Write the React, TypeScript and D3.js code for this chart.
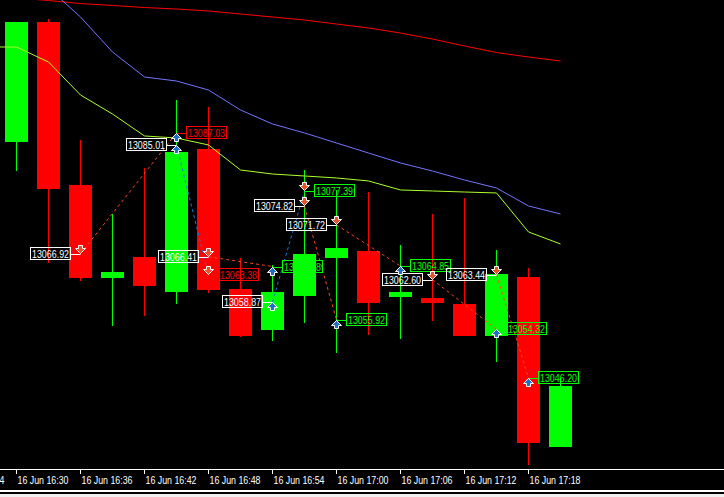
import React from "react";
import * as d3 from "d3";

// ---------- data ----------
const barTimes = [
  "16:30", "16:33", "16:36", "16:39", "16:42", "16:45", "16:48", "16:51", "16:54",
  "16:57", "17:00", "17:03", "17:06", "17:09", "17:12", "17:15", "17:18", "17:21",
];
const opens = [
  13085.54, 13105.54, 13078.37, 13062.87, 13066.37, 13060.54, 13084.37, 13061.04, 13054.2,
  13059.87, 13066.2, 13067.37, 13059.7, 13059.54, 13058.54, 13053.2, 13063.04, 13034.7,
];
const highs = [
  13105.54, 13106.04, 13085.87, 13073.54, 13081.2, 13092.54, 13091.37, 13066.2, 13065.04,
  13080.87, 13077.54, 13077.2, 13068.37, 13073.54, 13076.2, 13067.54, 13064.54, 13046.2,
];
const lows = [
  13080.7, 13065.37, 13062.37, 13054.87, 13056.54, 13058.54, 13060.37, 13053.04, 13052.37,
  13055.37, 13050.37, 13053.37, 13052.7, 13055.7, 13053.2, 13048.87, 13031.7, 13034.7,
];
const closes = [
  13105.54, 13077.7, 13062.87, 13063.87, 13061.54, 13083.87, 13060.87, 13053.2, 13060.54,
  13066.87, 13067.87, 13058.7, 13060.54, 13058.7, 13053.2, 13063.54, 13035.37, 13044.87,
];

// moving averages (first value belongs to the bar before 16:30)
const maTimes = ["16:27", ...barTimes];
const maSlow = [
  13110.04, 13109.54, 13109.12, 13108.62, 13108.29, 13107.95, 13107.7, 13107.37, 13106.87, 13106.37,
  13105.87, 13105.2, 13104.54, 13103.7, 13102.7, 13101.54, 13100.45, 13099.7, 13099.04,
];
const maMid: (number | null)[] = [
  null, null, 13111.2, 13106.37, 13100.54, 13096.37, 13095.7, 13094.2, 13090.87, 13088.54,
  13087.04, 13085.37, 13083.7, 13082.04, 13080.7, 13079.2, 13077.87, 13074.87, 13073.54,
];
const maFast = [
  13101.37, 13101.37, 13098.87, 13093.37, 13090.2, 13086.54, 13086.2, 13085.04, 13080.87, 13080.2,
  13079.87, 13079.54, 13079.04, 13077.54, 13077.37, 13077.2, 13077.04, 13070.54, 13068.54,
];

// trade history
const tradeTypes = ["sell", "buy", "sell", "buy", "sell", "sell", "sell", "sell"];
const tradeOpenTimes = ["16:36", "16:45", "16:48", "16:54", "16:57", "17:00", "17:09", "17:15"];
const tradeOpenPrices = [13066.92, 13085.01, 13066.41, 13058.87, 13074.82, 13071.72, 13062.6, 13063.44];
const tradeCloseTimes = ["16:45", "16:48", "16:54", "16:57", "17:00", "17:06", "17:15", "17:18"];
const tradeClosePrices = [13087.03, 13063.38, 13064.78, 13077.39, 13055.92, 13064.85, 13054.32, 13046.2];

// ---------- view ----------
const W = 724;
const H = 497;
const AXIS_Y = 470;
const PRICE_TOP = 13109.2033;
const PRICE_BOTTOM = 13030.8633;

const BULL = "#00ff00";
const BEAR = "#ff0000";
const BUY_BLUE = "#1f6fc4";
const SELL_RED = "#e8512c";
const DASH_BLUE = "#1f78d8";
const DASH_RED = "#f24a22";

const toDate = (t: string) => {
  const [h, m] = t.split(":").map(Number);
  return new Date(2020, 5, 16, h, m);
};

const x = d3.scaleTime().domain([toDate("16:30"), toDate("17:21")]).range([16.5, 560.5]);
const y = d3.scaleLinear().domain([PRICE_BOTTOM, PRICE_TOP]).range([AXIS_Y, 0]);
const fmt = d3.timeFormat("%d %b %H:%M");

function upArrow(cx: number, py: number) {
  const t = Math.round(py) + 0.5;
  return `M${cx},${t} L${cx + 5},${t + 5} L${cx + 2},${t + 5} L${cx + 2},${t + 8} L${cx - 2},${t + 8} L${cx - 2},${t + 5} L${cx - 5},${t + 5} Z`;
}
function downArrow(cx: number, py: number) {
  const t = Math.round(py) - 0.5;
  return `M${cx},${t} L${cx + 5},${t - 5} L${cx + 2},${t - 5} L${cx + 2},${t - 8} L${cx - 2},${t - 8} L${cx - 2},${t - 5} L${cx - 5},${t - 5} Z`;
}

type Label = { cx: number; py: number; text: string; color: string; side: "left" | "right" };

export default function App() {
  const lineGen = d3
    .line<{ t: string; v: number | null }>()
    .defined((d) => d.v != null)
    .x((d) => x(toDate(d.t)))
    .y((d) => y(d.v as number));

  const maSeries = [
    { values: maSlow, color: "#ff0000" },
    { values: maMid, color: "#7474ff" },
    { values: maFast, color: "#adff2f" },
  ];

  const ticks = d3.timeMinute.every(6)!.range(toDate("16:24"), toDate("17:19"));

  const labels: Label[] = [];
  const arrows: { cx: number; py: number; dir: "up" | "down" }[] = [];
  const dashes: { x1: number; y1: number; x2: number; y2: number; color: string }[] = [];

  tradeTypes.forEach((type, i) => {
    const ox = x(toDate(tradeOpenTimes[i]));
    const oy = y(tradeOpenPrices[i]);
    const cxp = x(toDate(tradeCloseTimes[i]));
    const cy = y(tradeClosePrices[i]);
    const profit =
      type === "buy" ? tradeClosePrices[i] > tradeOpenPrices[i] : tradeClosePrices[i] < tradeOpenPrices[i];
    dashes.push({ x1: ox, y1: oy, x2: cxp, y2: cy, color: type === "buy" ? DASH_BLUE : DASH_RED });
    labels.push({ cx: ox, py: oy, text: tradeOpenPrices[i].toFixed(2), color: "#ffffff", side: "left" });
    labels.push({
      cx: cxp,
      py: cy,
      text: tradeClosePrices[i].toFixed(2),
      color: profit ? BULL : BEAR,
      side: "right",
    });
    arrows.push({ cx: ox, py: oy, dir: type === "buy" ? "up" : "down" });
    arrows.push({ cx: cxp, py: cy, dir: type === "buy" ? "down" : "up" });
  });

  return (
    <svg
      width={W}
      height={H}
      style={{ position: "absolute", left: 0, top: 0, display: "block" }}
      fontFamily="'Liberation Sans', Arial, sans-serif"
    >
      <rect x={0} y={0} width={W} height={H} fill="#000000" />

      {/* candles */}
      {barTimes.map((t, i) => {
        const cx = x(toDate(t));
        const o = opens[i];
        const c = closes[i];
        const col = c >= o ? BULL : BEAR;
        const top = Math.round(y(Math.max(o, c)));
        const bot = Math.round(y(Math.min(o, c)));
        return (
          <g key={t}>
            <line x1={cx} x2={cx} y1={Math.round(y(highs[i]))} y2={Math.round(y(lows[i]))} stroke={col} strokeWidth={1} />
            <rect x={cx - 11.5} y={top} width={23} height={Math.max(1, bot - top)} fill={col} />
          </g>
        );
      })}

      {/* moving averages */}
      {maSeries.map((s, k) => (
        <path
          key={k}
          d={lineGen(maTimes.map((t, i) => ({ t, v: s.values[i] }))) || ""}
          fill="none"
          stroke={s.color}
          strokeWidth={1}
        />
      ))}

      {/* trade lines */}
      {dashes.map((d, i) => (
        <line key={i} x1={d.x1} y1={d.y1} x2={d.x2} y2={d.y2} stroke={d.color} strokeWidth={1} strokeDasharray="3 3" />
      ))}

      {/* labels */}
      {labels.map((l, i) => {
        const ry = Math.round(l.py);
        const bx = l.side === "left" ? l.cx - 50 : l.cx + 10;
        const c1 = l.side === "left" ? l.cx - 10 : l.cx;
        const c2 = l.side === "left" ? l.cx : l.cx + 10;
        return (
          <g key={i}>
            <line x1={c1} x2={c2} y1={ry + 0.5} y2={ry + 0.5} stroke={l.color} strokeWidth={1} />
            <rect x={bx} y={ry - 6.5} width={40} height={12} fill="none" stroke={l.color} strokeWidth={1} />
            <text
              x={bx + 20}
              y={ry + 4}
              fill={l.color}
              fontSize={10.5}
              textAnchor="middle"
              textLength={37}
              lengthAdjust="spacingAndGlyphs"
            >
              {l.text}
            </text>
          </g>
        );
      })}

      {/* arrows */}
      {arrows.map((a, i) => (
        <path
          key={i}
          d={a.dir === "up" ? upArrow(a.cx, a.py) : downArrow(a.cx, a.py)}
          fill={a.dir === "up" ? BUY_BLUE : SELL_RED}
          stroke="#ffffff"
          strokeWidth={1}
        />
      ))}

      {/* time axis */}
      <line x1={0} x2={W} y1={AXIS_Y - 0.5} y2={AXIS_Y - 0.5} stroke="#ffffff" strokeWidth={1} />
      {ticks.map((t, i) => {
        const tx = x(t);
        return (
          <g key={i}>
            <line x1={tx} x2={tx} y1={AXIS_Y} y2={AXIS_Y + 4} stroke="#ffffff" strokeWidth={1} />
            <text x={tx + 1} y={483.5} fill="#ffffff" fontSize={10} textLength={51} lengthAdjust="spacingAndGlyphs">
              {fmt(t)}
            </text>
          </g>
        );
      })}

      {/* window frame bottom */}
      <rect x={0} y={490} width={W} height={2} fill="#ffffff" />
      <rect x={0} y={494} width={W} height={3} fill="#f0f0f0" />
    </svg>
  );
}
